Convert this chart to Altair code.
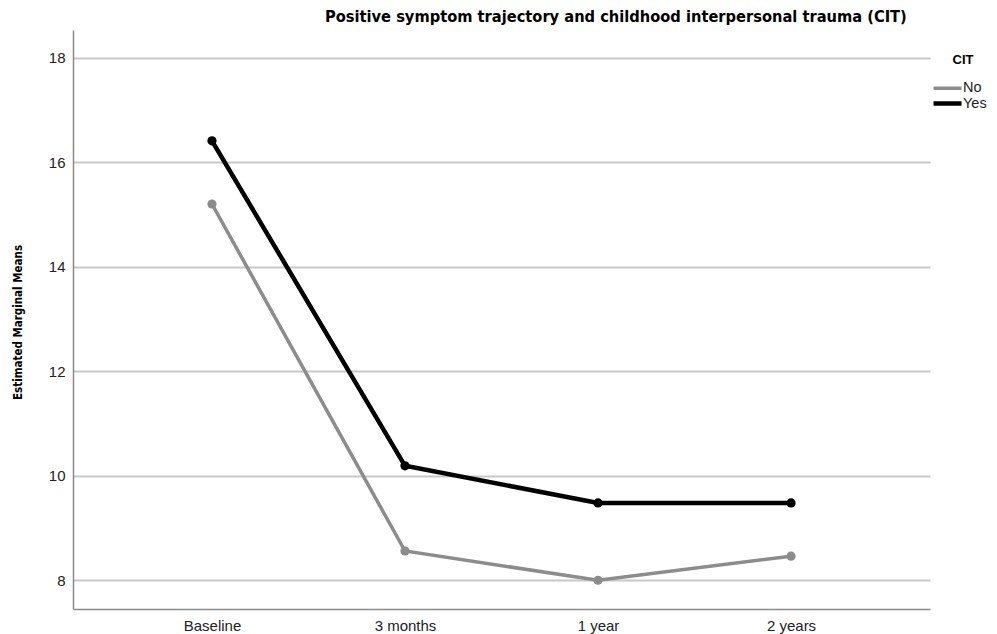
import altair as alt
import pandas as pd

times = ["Baseline", "3 months", "1 year", "2 years"]
no_vals = [15.2, 8.56, 8.0, 8.46]
yes_vals = [16.41, 10.19, 9.48, 9.48]
groups = ["No", "Yes"]
y_ticks = [8, 10, 12, 14, 16, 18]

rows = []
for t, v in zip(times, no_vals):
    rows.append({"time": t, "mean": v, "CIT": "No"})
for t, v in zip(times, yes_vals):
    rows.append({"time": t, "mean": v, "CIT": "Yes"})
df = pd.DataFrame(rows)

label_font = "Liberation Sans"
narrow = "DejaVu Sans Condensed, Liberation Sans"

x = alt.X("time:N", sort=times,
          scale=alt.Scale(type="point", padding=0.72),
          axis=alt.Axis(title=None, labelAngle=0, ticks=False, grid=False,
                        labelFont=label_font, labelFontSize=15, labelColor="#222",
                        labelPadding=9, domainColor="#8a8a8a", domainWidth=1.5))
y = alt.Y("mean:Q",
          scale=alt.Scale(domain=[7.45, 18.53], nice=False, zero=False),
          axis=alt.Axis(title="Estimated Marginal Means", values=y_ticks,
                        ticks=False, grid=True, gridColor="#c8c8c8", gridWidth=2,
                        labelFont=label_font, labelFontSize=15, labelColor="#222",
                        labelPadding=8, domainColor="#8a8a8a", domainWidth=1.5,
                        titleFont=narrow, titleFontSize=11.5, titleFontWeight="bold",
                        titleColor="#000", titleX=-55, titleY=292,
                        titleAngle=270, titleAlign="center", titleBaseline="middle"))
color = alt.Color("CIT:N", scale=alt.Scale(domain=groups, range=["#8c8c8c", "#000000"]),
                  legend=alt.Legend(title="CIT", orient="none", legendX=867, legendY=24,
                                    symbolType="M-2.8,0H2.8", symbolSize=100,
                                    symbolStrokeWidth=4,
                                    titleFont=label_font, titleFontSize=13,
                                    titleFontWeight="bold", titleColor="#000",
                                    titleAnchor="middle", titlePadding=14,
                                    labelFont=label_font, labelFontSize=14.5,
                                    labelColor="#222", labelOffset=8, rowPadding=-6))
sw = alt.StrokeWidth("CIT:N", scale=alt.Scale(domain=groups, range=[3.5, 4.5]), legend=None)

base = alt.Chart(df)
lines = base.mark_line().encode(x=x, y=y, color=color, strokeWidth=sw)
points = base.mark_circle(size=85, opacity=1).encode(x=x, y=y, color=color)

chart = (lines + points).properties(
    width=857, height=579,
    autosize=alt.AutoSizeParams(type="none"),
    padding={"left": 65, "top": 22, "right": 59, "bottom": 26},
    title=alt.TitleParams(
        "Positive symptom trajectory and childhood interpersonal trauma (CIT)",
        font=narrow, fontSize=16.3, fontWeight="bold", color="#000",
        anchor="start", frame="group", dx=252, offset=5),
).configure_view(stroke=None)

chart.save("out.html", embed_options={"renderer": "svg", "actions": False})
